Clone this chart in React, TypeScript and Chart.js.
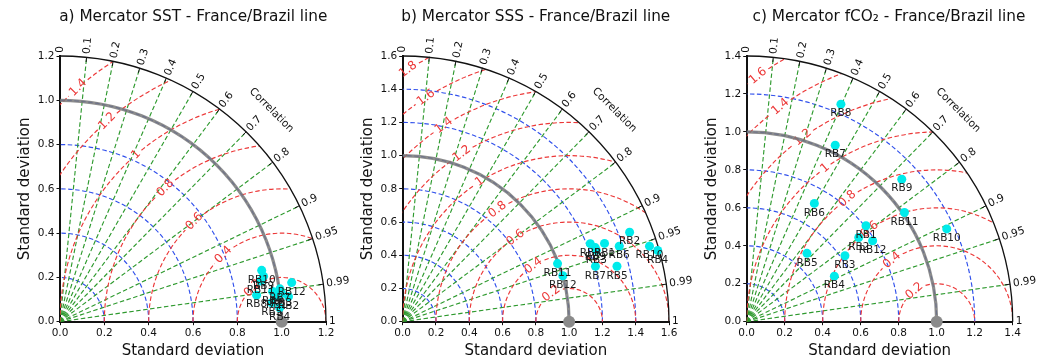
import React, { useEffect, useRef } from "react";
import { Chart, registerables } from "chart.js";

Chart.register(...registerables);

const FONT = "'DejaVu Sans', 'Liberation Sans', sans-serif";

// ---------- data ----------
const STATIONS = ["RB1", "RB2", "RB3", "RB4", "RB5", "RB6", "RB7", "RB8", "RB9", "RB10", "RB11", "RB12"];

const SST_STD = [0.984, 1.037, 1.008, 0.993, 0.959, 0.969, 1.003, 0.895, 0.941, 0.939, 0.924, 1.06];
const SST_CORR = [0.993, 0.994, 0.992, 0.998, 0.996, 0.99, 0.989, 0.991, 0.976, 0.969, 0.98, 0.986];

const SSS_STD = [1.301, 1.466, 1.24, 1.591, 1.33, 1.378, 1.205, 1.221, 1.24, 1.551, 0.994, 1.001];
const SSS_CORR = [0.932, 0.93, 0.938, 0.963, 0.968, 0.944, 0.961, 0.923, 0.933, 0.956, 0.936, 0.961];

const FCO2_STD = [0.806, 0.738, 0.623, 0.52, 0.48, 0.718, 1.04, 1.249, 1.109, 1.161, 1.01, 0.788];
const FCO2_CORR = [0.779, 0.799, 0.83, 0.887, 0.661, 0.496, 0.448, 0.397, 0.736, 0.907, 0.822, 0.841];

const CORR_TICKS = [0, 0.1, 0.2, 0.3, 0.4, 0.5, 0.6, 0.7, 0.8, 0.9, 0.95, 0.99, 1];

const RMS_SST = [0.2, 0.4, 0.6, 0.8, 1, 1.2, 1.4];
const RMS_SSS = [0.2, 0.4, 0.6, 0.8, 1, 1.2, 1.4, 1.6, 1.8];
const RMS_FCO2 = [0.2, 0.4, 0.6, 0.8, 1, 1.2, 1.4, 1.6];

const STD_MAX_SST = 1.2;
const STD_MAX_SSS = 1.6;
const STD_MAX_FCO2 = 1.4;

const TITLES = [
  "a) Mercator SST - France/Brazil line",
  "b) Mercator SSS - France/Brazil line",
  "c) Mercator fCO₂ - France/Brazil line",
];

// ---------- layout / style ----------
const PANELS = [
  { title: TITLES[0], std: SST_STD, corr: SST_CORR, max: STD_MAX_SST, rms: RMS_SST, canvasLeft: 0, canvasWidth: 349, plotLeft: 60, plotRight: 326, titleX: 193.3, labelAngle: 131 },
  { title: TITLES[1], std: SSS_STD, corr: SSS_CORR, max: STD_MAX_SSS, rms: RMS_SSS, canvasLeft: 349, canvasWidth: 347, plotLeft: 402.7, plotRight: 669, titleX: 535.8, labelAngle: 122.5 },
  { title: TITLES[2], std: FCO2_STD, corr: FCO2_CORR, max: STD_MAX_FCO2, rms: RMS_FCO2, canvasLeft: 696, canvasWidth: 350, plotLeft: 746.7, plotRight: 1012.7, titleX: 889, labelAngle: 126 },
];

const GREEN = "#2f9a2f";
const BLUE = "#3050ec";
const RED = "#ec3838";
const DASH = [4.5, 2.5];

function makePlugin(p: any) {
  return {
    id: "taylor",
    beforeDatasetsDraw(chart: any) {
      const { ctx } = chart;
      const xs = chart.scales.x;
      const ys = chart.scales.y;
      const ox = xs.getPixelForValue(0);
      const oy = ys.getPixelForValue(0);
      const kx = xs.getPixelForValue(1) - ox;
      const ky = oy - ys.getPixelForValue(1);
      const R = p.max;

      ctx.save();
      ctx.beginPath();
      ctx.moveTo(ox, oy);
      ctx.ellipse(ox, oy, R * kx, R * ky, 0, -Math.PI / 2, 0);
      ctx.closePath();
      ctx.clip();

      ctx.lineWidth = 1.15;
      ctx.setLineDash(DASH);

      // std dev circles (blue)
      const ticks = xs.ticks.map((t: any) => t.value).filter((v: number) => v > 0.001 && v < R - 0.001);
      ctx.strokeStyle = BLUE;
      ticks.forEach((s: number) => {
        ctx.beginPath();
        ctx.ellipse(ox, oy, s * kx, s * ky, 0, 0, -Math.PI / 2, true);
        ctx.stroke();
      });

      // correlation rays (green)
      ctx.strokeStyle = GREEN;
      CORR_TICKS.filter((c) => c > 0 && c < 1).forEach((c) => {
        const th = Math.acos(c);
        ctx.beginPath();
        ctx.moveTo(ox, oy);
        ctx.lineTo(ox + R * kx * Math.cos(th), oy - R * ky * Math.sin(th));
        ctx.stroke();
      });

      // RMS contours (red) with inline label gaps
      const cx = xs.getPixelForValue(1);
      const phiL = (p.labelAngle * Math.PI) / 180;
      ctx.font = `12px ${FONT}`;
      ctx.strokeStyle = RED;
      const labels: any[] = [];
      p.rms.forEach((rho: number) => {
        const rp = rho * kx;
        const txt = String(rho);
        const w = ctx.measureText(txt).width;
        const g = (w / 2 + 3) / rp;
        ctx.beginPath();
        ctx.ellipse(cx, oy, rho * kx, rho * ky, 0, -Math.PI, -phiL - g);
        ctx.stroke();
        ctx.beginPath();
        ctx.ellipse(cx, oy, rho * kx, rho * ky, 0, -phiL + g, 0);
        ctx.stroke();
        labels.push({ txt, x: cx + rho * kx * Math.cos(phiL), y: oy - rho * ky * Math.sin(phiL) });
      });
      ctx.restore();

      ctx.save();
      ctx.fillStyle = RED;
      ctx.font = `12px ${FONT}`;
      ctx.textAlign = "center";
      ctx.textBaseline = "middle";
      labels.forEach((l) => {
        ctx.save();
        ctx.translate(l.x, l.y);
        ctx.rotate(Math.PI / 2 - phiL - 0.08);
        ctx.fillText(l.txt, 0, 0);
        ctx.restore();
      });
      ctx.restore();

      ctx.save();
      // reference std arc (gray)
      ctx.strokeStyle = "rgba(120,120,120,0.85)";
      ctx.lineWidth = 3.2;
      ctx.beginPath();
      ctx.ellipse(ox, oy, kx, ky, 0, -Math.PI / 2, 0);
      ctx.stroke();

      // outer arc
      ctx.strokeStyle = "#111";
      ctx.lineWidth = 1.3;
      ctx.beginPath();
      ctx.ellipse(ox, oy, R * kx, R * ky, 0, -Math.PI / 2, 0);
      ctx.stroke();

      // correlation ticks and labels
      ctx.fillStyle = "#111";
      ctx.font = `10.5px ${FONT}`;
      ctx.textAlign = "left";
      ctx.textBaseline = "middle";
      ctx.lineWidth = 1;
      CORR_TICKS.forEach((c) => {
        const th = Math.acos(c);
        const cs = Math.cos(th);
        const sn = Math.sin(th);
        const rp = R * kx;
        ctx.beginPath();
        ctx.moveTo(ox + (rp - 5) * cs, oy - (rp - 5) * sn);
        ctx.lineTo(ox + rp * cs, oy - rp * sn);
        ctx.stroke();
        ctx.save();
        ctx.translate(ox + (rp + 3) * cs, oy - (rp + 3) * sn);
        ctx.rotate(-th);
        ctx.fillText(String(c), 0, 0);
        ctx.restore();
      });

      // "Correlation" label
      const rc = R * kx + 33;
      ctx.save();
      ctx.translate(ox + rc * Math.SQRT1_2, oy - rc * Math.SQRT1_2);
      ctx.rotate(Math.PI / 4);
      ctx.textAlign = "center";
      ctx.font = `10.5px ${FONT}`;
      ctx.fillText("Correlation", 0, 0);
      ctx.restore();

      // reference point
      ctx.fillStyle = "#8a8a8a";
      ctx.beginPath();
      ctx.arc(cx, oy, 6, 0, Math.PI * 2);
      ctx.fill();
      ctx.restore();
    },
    afterDatasetsDraw(chart: any) {
      const { ctx } = chart;
      const meta = chart.getDatasetMeta(0);
      ctx.save();
      ctx.fillStyle = "#1a1a1a";
      ctx.font = `10.5px ${FONT}`;
      ctx.textAlign = "center";
      ctx.textBaseline = "middle";
      meta.data.forEach((el: any, i: number) => {
        ctx.fillText(STATIONS[i], el.x, el.y + 9.5);
      });
      ctx.restore();
    },
    afterDraw(chart: any) {
      const { ctx } = chart;
      ctx.save();
      ctx.fillStyle = "#111";
      ctx.font = `15.3px ${FONT}`;
      ctx.textAlign = "center";
      ctx.textBaseline = "middle";
      ctx.fillText(p.title, p.titleX - p.canvasLeft, 17);
      ctx.restore();
    },
  };
}

function makeConfig(p: any): any {
  const points = p.std.map((s: number, i: number) => {
    const c = p.corr[i];
    return { x: s * c, y: s * Math.sqrt(1 - c * c) };
  });
  const tickFont = { family: FONT, size: 10.5 };
  const titleFont = { family: FONT, size: 15 };
  const yTitleCenter = p.plotLeft - 34.5 - p.canvasLeft;
  return {
    type: "scatter",
    data: {
      datasets: [
        {
          data: points,
          pointRadius: 4.5,
          pointHoverRadius: 4.5,
          backgroundColor: "rgb(0,235,235)",
          borderWidth: 0,
          clip: false,
        },
      ],
    },
    options: {
      responsive: false,
      maintainAspectRatio: false,
      animation: false,
      events: [],
      layout: { padding: { left: 0, right: p.canvasLeft + p.canvasWidth - p.plotRight, top: 56, bottom: 0 } },
      plugins: { legend: { display: false }, tooltip: { enabled: false }, title: { display: false } },
      scales: {
        x: {
          type: "linear",
          min: 0,
          max: p.max,
          ticks: { stepSize: 0.2, autoSkip: false, maxRotation: 0, padding: 2, color: "#111", font: tickFont, callback: (v: any) => Number(v).toFixed(1) },
          grid: { drawOnChartArea: false, drawTicks: true, tickLength: 3.5, color: "#111" },
          border: { display: true, color: "#111", width: 2 },
          title: { display: true, text: "Standard deviation", color: "#111", font: titleFont, padding: { top: 0, bottom: 3.6 } },
          afterFit: (s: any) => {
            s.height = 42.3;
          },
        },
        y: {
          type: "linear",
          min: 0,
          max: p.max,
          ticks: { stepSize: 0.2, autoSkip: false, padding: 2, color: "#111", font: tickFont, callback: (v: any) => Number(v).toFixed(1) },
          grid: { drawOnChartArea: false, drawTicks: true, tickLength: 3.5, color: "#111" },
          border: { display: true, color: "#111", width: 2 },
          title: { display: true, text: "Standard deviation", color: "#111", font: titleFont, padding: { top: yTitleCenter - 9, bottom: 0 } },
          afterFit: (s: any) => {
            s.width = p.plotLeft - p.canvasLeft;
          },
        },
      },
    },
    plugins: [makePlugin(p)],
  };
}

export default function App() {
  const canvases = useRef<(HTMLCanvasElement | null)[]>([]);
  useEffect(() => {
    const charts = PANELS.map((p, i) => new Chart(canvases.current[i] as HTMLCanvasElement, makeConfig(p)));
    return () => charts.forEach((c) => c.destroy());
  }, []);
  return (
    <div style={{ position: "absolute", left: 0, top: 0, width: 1046, height: 364, background: "#fff", overflow: "hidden" }}>
      {PANELS.map((p, i) => (
        <canvas
          key={i}
          ref={(el) => {
            canvases.current[i] = el;
          }}
          width={p.canvasWidth}
          height={364}
          style={{ position: "absolute", left: p.canvasLeft, top: 0, width: p.canvasWidth, height: 364 }}
        />
      ))}
    </div>
  );
}
